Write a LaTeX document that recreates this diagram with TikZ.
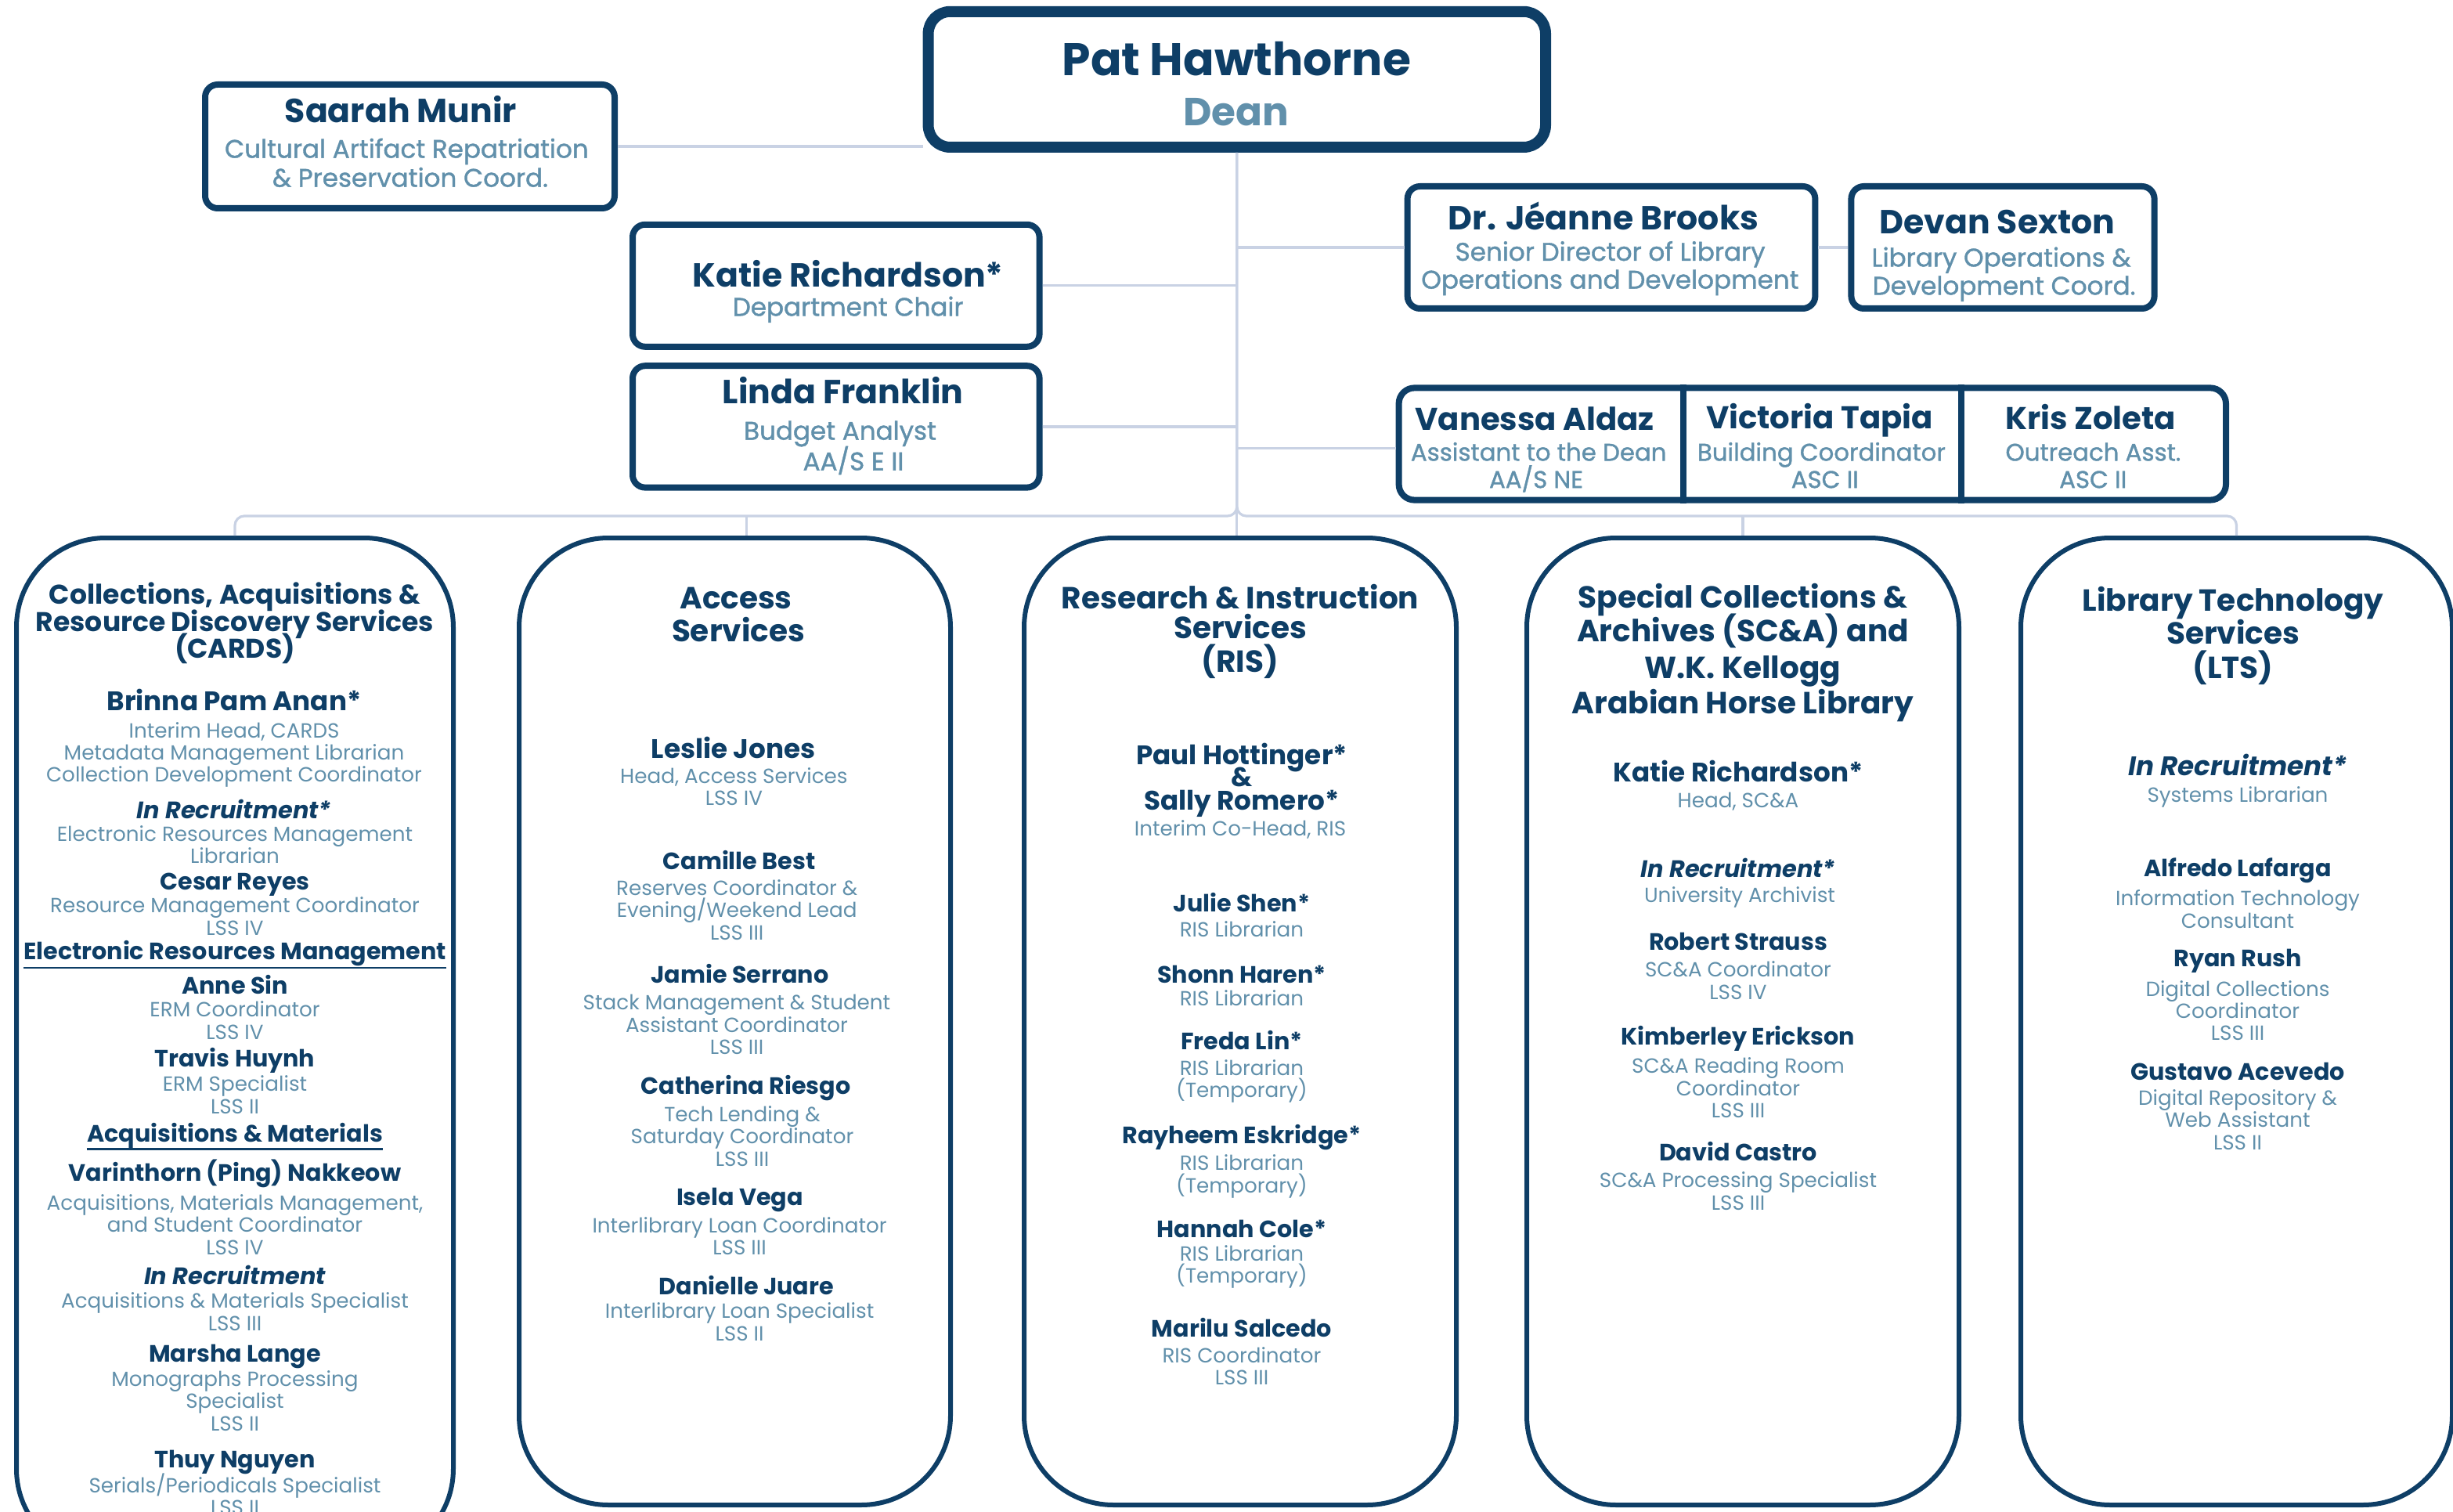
\documentclass[tikz,border=0pt]{standalone}
\usepackage{fontspec}
\setmainfont{Poppins}
\newfontfamily\pmed{Poppins}[FakeBold=1.2]
\definecolor{navy}{HTML}{0E3E66}
\definecolor{lblue}{HTML}{6190AB}
\definecolor{connc}{HTML}{C9D2E4}
\tikzset{
  nm/.style={anchor=base, inner sep=0pt, text=navy, font=\fontsize{15.1}{17}\selectfont\bfseries},
  nmh/.style={nm, font=\fontsize{17.1}{19}\selectfont\bfseries},
  ri/.style={nm, font=\fontsize{15.2}{17}\selectfont\bfseries\itshape},
  rih/.style={nm, font=\fontsize{17.1}{19}\selectfont\bfseries\itshape},
  tl/.style={anchor=base, inner sep=0pt, text=lblue, font=\fontsize{13.1}{14}\selectfont},
  hd/.style={anchor=base, inner sep=0pt, text=navy, font=\fontsize{19.5}{21}\selectfont\bfseries},
  hdc/.style={hd, font=\fontsize{17.3}{18}\selectfont\bfseries},
  sh/.style={nm, font=\fontsize{15.1}{17}\selectfont\bfseries},
  tn/.style={anchor=base, inner sep=0pt, text=navy, font=\fontsize{21.3}{23}\selectfont\bfseries},
  tng/.style={tn, font=\fontsize{20.1}{22}\selectfont\bfseries},
  ts/.style={anchor=base, inner sep=0pt, text=lblue, font=\fontsize{16.3}{18}\selectfont\pmed},
  tsg/.style={ts, font=\fontsize{15.4}{17}\selectfont\pmed},
  tbox/.style={draw=navy, line width=4pt, rounded corners=8pt, inner sep=0pt},
  dbox/.style={draw=navy, line width=3pt, rounded corners=57pt, inner sep=0pt},
  cline/.style={draw=connc, line width=1.6pt},
  uline/.style={draw=navy, line width=1.2pt},
}
\newcommand\tls[4]{\foreach \tline [count=\tidx from 0] in {#4}{\node[tl] (#1-\tidx) at (#2,{#3+14.2*\tidx}) {\tline};}}
\begin{document}
\begin{tikzpicture}[x=1pt,y=-1pt]
\useasboundingbox (0,0) rectangle (1566.5,965.5);
\clip (0,0) rectangle (1566.5,965.5);
% ---------- top boxes
\node[tbox, minimum width=394.2pt, minimum height=86.6pt, line width=7pt, rounded corners=14pt] (pat) at (789.9,50.7) {};
\node[anchor=base, inner sep=0pt, text=navy, font=\fontsize{29.2}{32}\selectfont\bfseries] (pat-n) at (789.7,48.3) {Pat Hawthorne};
\node[anchor=base, inner sep=0pt, text=lblue, font=\fontsize{25}{27}\selectfont\bfseries] (pat-t) at (789.5,80.3) {Dean};

\node[tbox, minimum width=261.5pt, minimum height=79pt] (saarah) at (261.75,93.5) {};
\node[tn] (saarah-n) at (256,78.5) {Saarah Munir};
\node[ts] (saarah-1) at (259.7,100.8) {Cultural Artifact Repatriation};
\node[ts] (saarah-2) at (262,119.3) {\& Preservation Coord.};

\node[tbox, minimum width=259.8pt, minimum height=78pt] (katie) at (533.9,182.4) {};
\node[tn] (katie-n) at (541.6,183.2) {Katie Richardson*};
\node[ts] (katie-1) at (541.6,201.7) {Department Chair};

\node[tbox, minimum width=259.8pt, minimum height=77.7pt] (linda) at (533.9,272.45) {};
\node[tn] (linda-n) at (538.3,258) {Linda Franklin};
\node[ts] (linda-1) at (536.5,280.8) {Budget Analyst};
\node[ts] (linda-2) at (545,300.3) {AA/S E II};

\node[tbox, minimum width=260.4pt, minimum height=78pt] (brooks) at (1029,158) {};
\node[tn] (brooks-n) at (1024,146.8) {Dr. Jéanne Brooks};
\node[ts] (brooks-1) at (1028.3,166.5) {Senior Director of Library};
\node[ts] (brooks-2) at (1028.2,184.3) {Operations and Development};

\node[tbox, minimum width=193.6pt, minimum height=78pt] (devan) at (1279,158) {};
\node[tn] (devan-n) at (1275.5,149.2) {Devan Sexton};
\node[ts] (devan-1) at (1278,170.2) {Library Operations \&};
\node[ts] (devan-2) at (1279.8,188.2) {Development Coord.};

\node[tbox, minimum width=528.2pt, minimum height=71.6pt, rounded corners=10pt] (grp) at (1157.4,283.5) {};
\draw[navy, line width=4pt] (1074.9,0 |- grp.north) -- (1074.9,0 |- grp.south);
\draw[navy, line width=4pt] (1252.4,0 |- grp.north) -- (1252.4,0 |- grp.south);
\node[tng] (vanessa-n) at (980,275) {Vanessa Aldaz};
\node[tsg] (vanessa-1) at (982.6,294.2) {Assistant to the Dean};
\node[tsg] (vanessa-2) at (981,311.6) {AA/S NE};
\node[tng] (victoria-n) at (1162,273.6) {Victoria Tapia};
\node[tsg] (victoria-1) at (1163.2,294.2) {Building Coordinator};
\node[tsg] (victoria-2) at (1165.4,311.6) {ASC II};
\node[tng] (kris-n) at (1335,274.3) {Kris Zoleta};
\node[tsg] (kris-1) at (1336.7,294.2) {Outreach Asst.};
\node[tsg] (kris-2) at (1336.6,311.6) {ASC II};

% ---------- department boxes
\node[dbox, minimum width=279pt, minimum height=651.5pt] (cards) at (150,669.25) {};
\node[dbox, minimum width=275.5pt, minimum height=617.5pt] (access) at (469.25,652.25) {};
\node[dbox, minimum width=276pt, minimum height=617.5pt] (ris) at (792,652.25) {};
\node[dbox, minimum width=276pt, minimum height=617.5pt] (scna) at (1113,652.25) {};
\node[dbox, minimum width=275.5pt, minimum height=617.5pt] (lts) at (1428.25,652.25) {};

% ---------- connectors
\coordinate (bus) at (0,329.5);
\coordinate (accd) at ([xshift=7.5pt]access.north);
\draw[cline] (saarah.east) -- (saarah.east -| pat.west);
\draw[cline] (pat.south) -- (pat.south |- ris.north);
\draw[cline] (katie.east) -- (katie.east -| pat.south);
\draw[cline] (linda.east) -- (linda.east -| pat.south);
\draw[cline] (brooks.west -| pat.south) -- (brooks.west);
\draw[cline] (brooks.east) -- (devan.west);
\draw[cline] ([yshift=-2.7pt]grp.west -| pat.south) -- ([yshift=-2.7pt]grp.west);
\draw[cline, rounded corners=6pt] (pat.south) |- (cards.north |- bus) -- (cards.north);
\draw[cline, rounded corners=6pt] (pat.south) |- (lts.north |- bus) -- (lts.north);
\draw[cline] (accd |- bus) -- (accd);
\draw[cline] (scna.north |- bus) -- (scna.north);

% ---------- CARDS
\node[hdc] (cards-h1) at (150,385.5) {Collections, Acquisitions \&};
\node[hdc] (cards-h2) at (150,403) {Resource Discovery Services};
\node[hdc] (cards-h3) at (150,420) {(CARDS)};
\node[nmh] (brinna) at (149.5,453.6) {Brinna Pam Anan*};
\tls{brinna}{149.5}{471}{{Interim Head, CARDS},Metadata Management Librarian,Collection Development Coordinator}
\node[ri] (rec1) at (149.5,522.9) {In Recruitment*};
\tls{rec1}{150}{537.1}{Electronic Resources Management,Librarian}
\node[nm] (cesar) at (150,568.3) {Cesar Reyes};
\tls{cesar}{150}{582.9}{Resource Management Coordinator,LSS IV}
\node[sh] (erm) at (150,612.9) {Electronic Resources Management};
\draw[uline] ([yshift=-5pt]erm.base west) -- ([yshift=-5pt]erm.base east);
\node[nm] (anne) at (150,634.8) {Anne Sin};
\tls{anne}{150}{649.4}{ERM Coordinator,LSS IV}
\node[nm] (travis) at (150,681) {Travis Huynh};
\tls{travis}{150}{696.8}{ERM Specialist,LSS II}
\node[sh] (acq) at (150,729.2) {Acquisitions \& Materials};
\draw[uline] ([yshift=-4.5pt]acq.base west) -- ([yshift=-4.5pt]acq.base east);
\node[nm] (varin) at (150,754.4) {Varinthorn (Ping) Nakkeow};
\tls{varin}{150}{772.6}{{Acquisitions, Materials Management,},and Student Coordinator,LSS IV}
\node[ri] (rec2) at (150,820) {In Recruitment};
\tls{rec2}{150}{835.4}{Acquisitions \& Materials Specialist,LSS III}
\node[nm] (marsha) at (150,869.8) {Marsha Lange};
\tls{marsha}{150}{885.2}{Monographs Processing,Specialist,LSS II}
\node[nm] (thuy) at (150,937) {Thuy Nguyen};
\tls{thuy}{150}{953}{Serials/Periodicals Specialist,LSS II}

% ---------- Access
\node[hd] (acc-h1) at (470,388.8) {Access};
\node[hd] (acc-h2) at (471.5,409.8) {Services};
\node[nmh] (leslie) at (468.4,484) {Leslie Jones};
\tls{leslie}{468.7}{500}{{Head, Access Services},LSS IV}
\node[nm] (camille) at (472,555) {Camille Best};
\tls{camille}{470.6}{571.6}{Reserves Coordinator \&,Evening/Weekend Lead,LSS III}
\node[nm] (jamie) at (472.4,627.9) {Jamie Serrano};
\tls{jamie}{470.5}{644.9}{Stack Management \& Student,Assistant Coordinator,LSS III}
\node[nm] (cath) at (476.3,698.8) {Catherina Riesgo};
\tls{cath}{474}{716.2}{Tech Lending \&,Saturday Coordinator,LSS III}
\node[nm] (isela) at (472.5,769.7) {Isela Vega};
\tls{isela}{472.3}{787.2}{Interlibrary Loan Coordinator,LSS III}
\node[nm] (danielle) at (476.7,826.5) {Danielle Juare};
\tls{danielle}{472.3}{841.9}{Interlibrary Loan Specialist,LSS II}

% ---------- RIS
\node[hd] (ris-h1) at (792,388.8) {Research \& Instruction};
\node[hd] (ris-h2) at (792,407.8) {Services};
\node[hd] (ris-h3) at (792,429.3) {(RIS)};
\node[nmh] (paul) at (793,488) {Paul Hottinger*};
\node[nmh] (amp) at (793,502.2) {\&};
\node[nmh] (sally) at (793,517.2) {Sally Romero*};
\tls{sally}{792}{533.5}{{Interim Co-Head, RIS}}
\node[nm] (julie) at (793,582) {Julie Shen*};
\tls{julie}{793}{598.3}{RIS Librarian}
\node[nm] (shonn) at (793,627.9) {Shonn Haren*};
\tls{shonn}{793}{642}{RIS Librarian}
\node[nm] (freda) at (793,670.4) {Freda Lin*};
\tls{freda}{793}{686.6}{RIS Librarian,(Temporary)}
\node[nm] (rayheem) at (793,730) {Rayheem Eskridge*};
\tls{rayheem}{793}{747.4}{RIS Librarian,(Temporary)}
\node[nm] (hannah) at (793,790) {Hannah Cole*};
\tls{hannah}{793}{805}{RIS Librarian,(Temporary)}
\node[nm] (marilu) at (793,853.6) {Marilu Salcedo};
\tls{marilu}{793}{870.2}{RIS Coordinator,LSS III}

% ---------- SC&A
\node[hd] (sc-h1) at (1113,388) {Special Collections \&};
\node[hd] (sc-h2) at (1113,409.8) {Archives (SC\&A) and};
\node[hd] (sc-h3) at (1113,433.3) {W.K. Kellogg};
\node[hd] (sc-h4) at (1113,455.6) {Arabian Horse Library};
\node[nmh] (katie2) at (1110,499.4) {Katie Richardson*};
\tls{katie2}{1110}{515.6}{{Head, SC\&A}}
\node[ri] (rec3) at (1110,560.2) {In Recruitment*};
\tls{rec3}{1111}{576}{University Archivist}
\node[nm] (robert) at (1110,606.8) {Robert Strauss};
\tls{robert}{1110}{623.8}{SC\&A Coordinator,LSS IV}
\node[nm] (kim) at (1110,667.2) {Kimberley Erickson};
\tls{kim}{1110}{685.4}{SC\&A Reading Room,Coordinator,LSS III}
\node[nm] (david) at (1110,741.4) {David Castro};
\tls{david}{1110}{758.4}{SC\&A Processing Specialist,LSS III}

% ---------- LTS
\node[hd] (lts-h1) at (1426,390) {Library Technology};
\node[hd] (lts-h2) at (1426,411) {Services};
\node[hd] (lts-h3) at (1426,433.3) {(LTS)};
\node[rih] (rec4) at (1429,495.4) {In Recruitment*};
\tls{rec4}{1429}{512.4}{Systems Librarian}
\node[nm] (alfredo) at (1429,559.8) {Alfredo Lafarga};
\tls{alfredo}{1429}{578.4}{Information Technology,Consultant}
\node[nm] (ryan) at (1429,617) {Ryan Rush};
\tls{ryan}{1429}{636}{Digital Collections,Coordinator,LSS III}
\node[nm] (gustavo) at (1429,689.5) {Gustavo Acevedo};
\tls{gustavo}{1429}{705.7}{Digital Repository \&,Web Assistant,LSS II}
\end{tikzpicture}
\end{document}
